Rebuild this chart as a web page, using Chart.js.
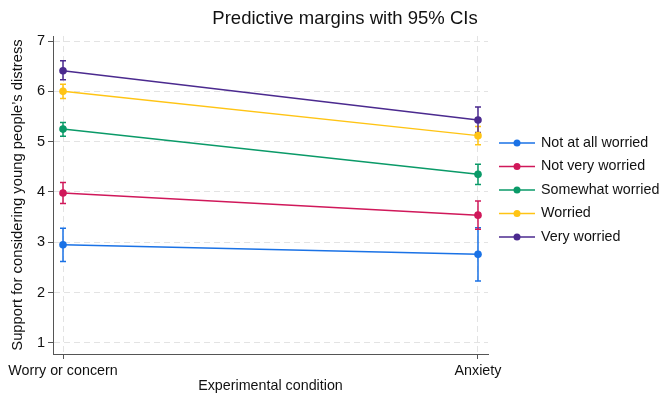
<!DOCTYPE html>
<html>
<head>
<meta charset="utf-8">
<script src="https://cdn.jsdelivr.net/npm/chart.js@4.4.1/dist/chart.umd.min.js"></script>
<style>
  html, body { margin: 0; padding: 0; background: #fff; }
  #wrap { width: 662px; height: 401px; position: relative; }
</style>
</head>
<body>
<div id="wrap"><canvas id="chart"></canvas></div>
<script>
// ── Data ──────────────────────────────────────────────────
const categories = ['Worry or concern', 'Anxiety'];
const seriesNames = ['Not at all worried', 'Not very worried', 'Somewhat worried', 'Worried', 'Very worried'];
const seriesColors = ['#1a72e6', '#d0185a', '#0a9a68', '#ffc414', '#4b2a8f'];

const notAtAll = [2.95, 2.76];
const notAtAllLo = [2.62, 2.23];
const notAtAllHi = [3.28, 3.29];

const notVery = [3.98, 3.54];
const notVeryLo = [3.77, 3.26];
const notVeryHi = [4.19, 3.82];

const somewhat = [5.25, 4.35];
const somewhatLo = [5.11, 4.15];
const somewhatHi = [5.38, 4.55];

const worried = [6.00, 5.12];
const worriedLo = [5.86, 4.94];
const worriedHi = [6.14, 5.30];

const veryWorried = [6.41, 5.43];
const veryWorriedLo = [6.23, 5.18];
const veryWorriedHi = [6.61, 5.69];

const yTicks = [1, 2, 3, 4, 5, 6, 7];

const means = [notAtAll, notVery, somewhat, worried, veryWorried];
const lows = [notAtAllLo, notVeryLo, somewhatLo, worriedLo, veryWorriedLo];
const highs = [notAtAllHi, notVeryHi, somewhatHi, worriedHi, veryWorriedHi];

const FONT = '"Liberation Sans", Arial, Helvetica, sans-serif';

// ── Plugins ───────────────────────────────────────────────
const errorBars = {
  id: 'errorBars',
  beforeDatasetsDraw(chart) {
    const { ctx, scales: { x, y } } = chart;
    ctx.save();
    ctx.lineWidth = 1.5;
    chart.data.datasets.forEach((ds, i) => {
      ctx.strokeStyle = ds.borderColor;
      ds.data.forEach((pt, j) => {
        const px = x.getPixelForValue(pt.x);
        const lo = y.getPixelForValue(lows[i][j]);
        const hi = y.getPixelForValue(highs[i][j]);
        ctx.beginPath();
        ctx.moveTo(px, lo); ctx.lineTo(px, hi);
        ctx.moveTo(px - 3, lo); ctx.lineTo(px + 3, lo);
        ctx.moveTo(px - 3, hi); ctx.lineTo(px + 3, hi);
        ctx.stroke();
      });
    });
    ctx.restore();
  },
};

const titleAndLegend = {
  id: 'titleAndLegend',
  afterDraw(chart) {
    const { ctx } = chart;
    ctx.save();
    ctx.fillStyle = '#111';
    ctx.font = `18.5px ${FONT}`;
    ctx.textAlign = 'center';
    ctx.textBaseline = 'middle';
    ctx.fillText('Predictive margins with 95% CIs', 345, 19);

    ctx.font = `14.3px ${FONT}`;
    ctx.textAlign = 'left';
    seriesNames.forEach((name, i) => {
      const ly = 143 + i * 23.5;
      ctx.strokeStyle = seriesColors[i];
      ctx.fillStyle = seriesColors[i];
      ctx.lineWidth = 1.5;
      ctx.beginPath();
      ctx.moveTo(499, ly); ctx.lineTo(535, ly);
      ctx.stroke();
      ctx.beginPath();
      ctx.arc(517, ly, 3.5, 0, Math.PI * 2);
      ctx.fill();
      ctx.fillStyle = '#111';
      ctx.fillText(name, 541, ly);
    });
    ctx.restore();
  },
};

// ── Chart ─────────────────────────────────────────────────
const datasets = seriesNames.map((name, i) => ({
  label: name,
  data: categories.map((c, j) => ({ x: j, y: means[i][j] })),
  borderColor: seriesColors[i],
  backgroundColor: seriesColors[i],
  borderWidth: 1.5,
  pointRadius: 3.8,
  pointHoverRadius: 3.8,
  pointBorderWidth: 0,
  tension: 0,
}));

const gridStyle = {
  color: '#e3e3e3',
  lineWidth: 1,
  tickColor: '#555',
  tickLength: 5,
  tickWidth: 1,
};

new Chart(document.getElementById('chart'), {
  type: 'line',
  data: { datasets },
  options: {
    responsive: true,
    maintainAspectRatio: false,
    animation: false,
    events: [],
    layout: { padding: { top: 36, right: 174, bottom: 0, left: 0 } },
    plugins: {
      legend: { display: false },
      title: { display: false },
      tooltip: { enabled: false },
    },
    scales: {
      x: {
        type: 'linear',
        min: -0.0241,
        max: 1.0241,
        afterBuildTicks: s => { s.ticks = categories.map((c, j) => ({ value: j })); },
        afterFit: s => { s.height = 47; },
        ticks: {
          callback: v => categories[v],
          color: '#111',
          font: { family: FONT, size: 14.3 },
          maxRotation: 0,
          padding: 3,
        },
        grid: gridStyle,
        border: { display: true, color: '#555', width: 1, dash: [6, 4] },
        title: {
          display: true,
          text: 'Experimental condition',
          color: '#111',
          font: { family: FONT, size: 14.3 },
          padding: { top: 0, bottom: 6 },
        },
      },
      y: {
        min: 0.78,
        max: 7.1,
        afterBuildTicks: s => { s.ticks = yTicks.map(v => ({ value: v })); },
        afterFit: s => { s.width = 53; },
        ticks: {
          color: '#111',
          font: { family: FONT, size: 14.5 },
          padding: 3,
        },
        grid: gridStyle,
        border: { display: true, color: '#555', width: 1, dash: [6, 4] },
        title: {
          display: true,
          text: 'Support for considering young people\u2019s distress',
          color: '#111',
          font: { family: FONT, size: 14.8 },
          padding: { top: 9, bottom: 0 },
        },
      },
    },
  },
  plugins: [errorBars, titleAndLegend],
});
</script>
</body>
</html>
